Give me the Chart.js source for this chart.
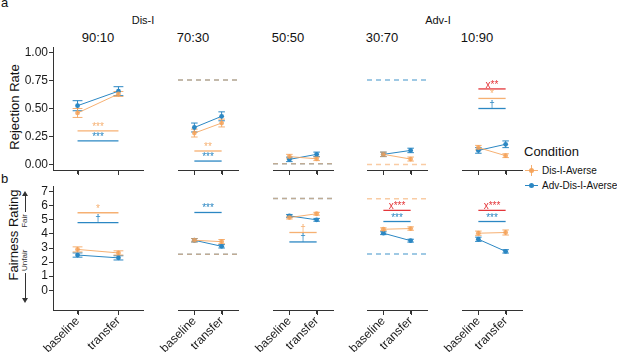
<!DOCTYPE html>
<html>
<head>
<meta charset="utf-8">
<script src="https://cdn.jsdelivr.net/npm/chart.js@4.4.1/dist/chart.umd.min.js"></script>
<style>
  body { margin: 0; background: #fff; }
  #wrap { position: relative; width: 617px; height: 352px; overflow: hidden;
          font-family: "Liberation Sans", Arial, sans-serif; color: #111; }
  canvas { position: absolute; }
  .t { position: absolute; white-space: nowrap; line-height: 1; }
  .c { transform: translate(-50%, -50%); }
  .r { transform: translate(-50%, -50%) rotate(-90deg); }
  .ax { position: absolute; background: #333; }
  .ln { display: inline-block; height: 1px; background: #333; }
  .arL { width: 0; height: 0; border-top: 3px solid transparent; border-bottom: 3px solid transparent; border-right: 5px solid #333; }
  .arR { width: 0; height: 0; border-top: 3px solid transparent; border-bottom: 3px solid transparent; border-left: 5px solid #333; }
</style>
</head>
<body>
<div id="wrap">
  <div class="t" style="left:1px;top:-4px;font-size:13px">a</div>
  <div class="t" style="left:1px;top:172px;font-size:13px">b</div>
  <div class="t c" id="g0" style="left:143px;top:20px;font-size:11px"></div>
  <div class="t c" id="g1" style="left:438px;top:20px;font-size:11px"></div>
  <div class="t r" style="left:14px;top:107px;font-size:13px">Rejection Rate</div>
  <div class="t r" style="left:13px;top:235px;font-size:13px">Fairness Rating</div>
  <div class="t" style="left:25px;top:247px;width:112px;display:flex;align-items:center;font-size:8px;color:#333;transform:translate(-50%,-50%) rotate(-90deg)">
    <span class="arL"></span><span class="ln" style="width:25px"></span>
    <span style="margin:0 2px">Unfair</span><span style="flex:1"></span>
    <span style="margin:0 2px">Fair</span>
    <span class="ln" style="width:16px"></span><span class="arR"></span>
  </div>

  <div class="t" style="left:524px;top:145px;font-size:13px">Condition</div>
  <div style="position:absolute;left:525px;top:170px;width:13px;height:1px;background:rgba(244,162,89,0.85)"></div>
  <div style="position:absolute;left:531px;top:165px;width:1px;height:11px;background:rgba(244,162,89,0.85)"></div>
  <div style="position:absolute;left:529px;top:168px;width:5px;height:5px;border-radius:50%;background:rgba(244,162,89,0.95)"></div>
  <div class="t" id="lg0" style="left:542px;top:166px;font-size:10px"></div>
  <div style="position:absolute;left:525px;top:185px;width:13px;height:1px;background:#2B87C3"></div>
  <div style="position:absolute;left:529px;top:183px;width:5px;height:5px;border-radius:50%;background:#2B87C3"></div>
  <div class="t" id="lg1" style="left:542px;top:181px;font-size:10px"></div>
</div>
<script>
const facets = ['90:10', '70:30', '50:50', '30:70', '10:90'];
const phases = ['baseline', 'transfer'];
const groups = ['Dis-I', 'Adv-I'];
const conditions = ['Dis-I-Averse', 'Adv-Dis-I-Averse'];

// panel a: rejection rate, [baseline, transfer] per ratio
const rejDis = [[0.46, 0.63], [0.28, 0.37], [0.07, 0.05], [0.09, 0.048], [0.15, 0.078]];
const rejDisErr = [[0.04, 0.022], [0.035, 0.035], [0.02, 0.016], [0.02, 0.018], [0.02, 0.017]];
const rejAdv = [[0.525, 0.655], [0.33, 0.43], [0.045, 0.09], [0.09, 0.125], [0.125, 0.18]];
const rejAdvErr = [[0.045, 0.04], [0.04, 0.04], [0.02, 0.02], [0.02, 0.02], [0.025, 0.03]];
const rejTicks = [0, 0.25, 0.5, 0.75, 1];
// significance bars (null = none) and their marks
const rejSigDis = [0.30, 0.12, null, null, 0.59];
const rejSigDisLab = ['***', '**', '', '', '*'];
const rejSigAdv = [0.21, 0.03, null, null, 0.50];
const rejSigAdvLab = ['***', '***', '', '', '†'];
const rejSigDiff = [null, null, null, null, 0.675];
const rejSigDiffLab = ['', '', '', '', 'x**'];
// dashed reference levels
const rejRefDis = [null, 0.755, 0.005, 0.0, null];
const rejRefAdv = [null, 0.755, 0.005, 0.755, null];

// panel b: fairness rating
const fairDis = [[2.9, 2.65], [3.55, 3.45], [5.16, 5.43], [4.33, 4.38], [4.05, 4.1]];
const fairDisErr = [[0.18, 0.15], [0.12, 0.15], [0.1, 0.1], [0.1, 0.12], [0.15, 0.18]];
const fairAdv = [[2.5, 2.3], [3.55, 3.12], [5.28, 5.0], [4.05, 3.52], [3.62, 2.76]];
const fairAdvErr = [[0.15, 0.15], [0.12, 0.12], [0.1, 0.1], [0.1, 0.1], [0.15, 0.12]];
const fairTicks = [0, 1, 2, 3, 4, 5, 6, 7];
const fairSigDis = [5.5, null, 4.1, null, null];
const fairSigDisLab = ['*', '', '†', '', ''];
const fairSigAdv = [4.8, 5.52, 3.43, 4.88, 4.88];
const fairSigAdvLab = ['†', '***', '†', '***', '***'];
const fairSigDiff = [null, null, null, 5.67, 5.67];
const fairSigDiffLab = ['', '', '', 'x***', 'x***'];
const fairRefDis = [null, 2.55, 6.52, 6.5, null];
const fairRefAdv = [null, 2.55, 6.52, 2.57, null];

const ORANGE = 'rgba(244,162,89,0.85)';
const BLUE = '#2B87C3';
const RED = '#E4363A';
const ORANGE_DASH = 'rgba(244,162,89,0.55)';
const BLUE_DASH = 'rgba(43,135,195,0.6)';
const AXIS = '#333';

const MS = 14;         // spare room left/right of each facet canvas
const YW = 30;         // y axis width on first facet
const FW = 90;         // facet width
const FACET_L = [53, 148, 243, 337, 432];
const CAP = 0.12;

Chart.defaults.font.family = '"Liberation Sans", Arial, sans-serif';
Chart.defaults.color = '#1a1a1a';

const wrap = document.getElementById('wrap');
document.getElementById('g0').textContent = groups[0];
document.getElementById('g1').textContent = groups[1];
document.getElementById('lg0').textContent = conditions[0];
document.getElementById('lg1').textContent = conditions[1];

facets.forEach((f, i) => {
  const d = document.createElement('div');
  d.className = 't c';
  d.style.left = (FACET_L[i] + FW / 2) + 'px';
  d.style.top = '37px';
  d.style.fontSize = '13px';
  d.textContent = f;
  wrap.appendChild(d);
});

function seg(v, x0, x1) {
  return [{x: x0, y: v}, {x: x1, y: v}];
}

function errData(vals, errs) {
  const d = [];
  vals.forEach((v, k) => {
    const x = k + 1, lo = v - errs[k], hi = v + errs[k];
    d.push({x: x, y: lo}, {x: x, y: hi}, {x: x, y: null});
    d.push({x: x - CAP, y: lo}, {x: x + CAP, y: lo}, {x: x, y: null});
    d.push({x: x - CAP, y: hi}, {x: x + CAP, y: hi}, {x: x, y: null});
  });
  return d;
}

// star / dagger marks over each significance bar
const sigText = {
  id: 'sigText',
  afterDatasetsDraw(chart) {
    const {ctx, scales: {x, y}} = chart;
    chart.data.datasets.forEach(ds => {
      if (!ds.sigLabel) return;
      ctx.save();
      ctx.font = '10px "Liberation Sans", Arial, sans-serif';
      ctx.fillStyle = ds.borderColor;
      ctx.textAlign = 'center';
      ctx.textBaseline = 'alphabetic';
      ctx.fillText(ds.sigLabel, x.getPixelForValue(1.5), y.getPixelForValue(ds.data[0].y) - 1);
      ctx.restore();
    });
  }
};

// the thin crisp axis strokes did not show up in the photo, so copy them
// as 1px divs placed from the scales' own geometry
function axisDiv(left, top, w, h) {
  const d = document.createElement('div');
  d.className = 'ax';
  d.style.left = left + 'px';
  d.style.top = top + 'px';
  d.style.width = w + 'px';
  d.style.height = h + 'px';
  wrap.appendChild(d);
}

function copyAxes(chart, ox, oy) {
  const {x, y} = chart.scales;
  axisDiv(ox + x.left, oy + x.top, x.width, 1);
  x.ticks.forEach(t => axisDiv(ox + Math.round(x.getPixelForValue(t.value)), oy + x.top + 1, 1, 4));
  if (y.options.display) {
    axisDiv(ox + y.right, oy + y.top, 1, y.height + 1);
    y.ticks.forEach(t => axisDiv(ox + y.right - 4, oy + Math.floor(y.getPixelForValue(t.value)), 4, 1));
  }
}

const panels = [
  {top: 47, h: 123, mt: 10, axisH: 8, min: -0.05, max: 1.05, ticks: rejTicks, fmt: v => v.toFixed(2), labels: false,
   dis: rejDis, disErr: rejDisErr, adv: rejAdv, advErr: rejAdvErr,
   sigDis: rejSigDis, sigDisLab: rejSigDisLab, sigAdv: rejSigAdv, sigAdvLab: rejSigAdvLab,
   sigDiff: rejSigDiff, sigDiffLab: rejSigDiffLab, refDis: rejRefDis, refAdv: rejRefAdv},
  {top: 186, h: 124, mt: 8, axisH: 60, min: -1.4, max: 7.4, ticks: fairTicks, fmt: v => String(v), labels: true,
   dis: fairDis, disErr: fairDisErr, adv: fairAdv, advErr: fairAdvErr,
   sigDis: fairSigDis, sigDisLab: fairSigDisLab, sigAdv: fairSigAdv, sigAdvLab: fairSigAdvLab,
   sigDiff: fairSigDiff, sigDiffLab: fairSigDiffLab, refDis: fairRefDis, refAdv: fairRefAdv}
];

function makeFacet(p, i) {
  const first = i === 0;
  const cv = document.createElement('canvas');
  const ox = FACET_L[i] - MS - (first ? YW : 0);
  const oy = p.top - p.mt;
  cv.width = FW + 2 * MS + (first ? YW : 0);
  cv.height = p.mt + p.h + p.axisH;
  cv.style.left = ox + 'px';
  cv.style.top = oy + 'px';
  wrap.appendChild(cv);

  const ds = [];
  // means joined by a line (orange on top)
  ds.push({data: p.dis[i].map((v, k) => ({x: k + 1, y: v})), borderColor: ORANGE, backgroundColor: ORANGE,
           borderWidth: 1, pointRadius: 2.4, pointBorderWidth: 0, order: 0});
  ds.push({data: p.adv[i].map((v, k) => ({x: k + 1, y: v})), borderColor: BLUE, backgroundColor: BLUE,
           borderWidth: 1, pointRadius: 2.4, pointBorderWidth: 0, order: 0});
  // error bars
  ds.push({data: errData(p.dis[i], p.disErr[i]), borderColor: ORANGE, borderWidth: 1, pointRadius: 0, spanGaps: false, order: 1});
  ds.push({data: errData(p.adv[i], p.advErr[i]), borderColor: BLUE, borderWidth: 1, pointRadius: 0, spanGaps: false, order: 1});
  // significance bars
  [[p.sigDiff, p.sigDiffLab, RED], [p.sigDis, p.sigDisLab, ORANGE], [p.sigAdv, p.sigAdvLab, BLUE]].forEach(([vals, labs, col]) => {
    if (vals[i] === null) return;
    ds.push({data: seg(vals[i], 1, 2), borderColor: col, borderWidth: 1.3, pointRadius: 0, sigLabel: labs[i], order: 2});
  });
  // dashed reference levels
  if (p.refDis[i] !== null) {
    ds.push({data: seg(p.refDis[i], 0.4, 2.6), borderColor: ORANGE_DASH, borderWidth: 1.5, borderDash: [5, 4], pointRadius: 0, order: 3});
  }
  if (p.refAdv[i] !== null) {
    ds.push({data: seg(p.refAdv[i], 0.4, 2.6), borderColor: BLUE_DASH, borderWidth: 1.5, borderDash: [5, 4], pointRadius: 0, order: 3});
  }

  const chart = new Chart(cv, {
    type: 'line',
    data: {datasets: ds},
    options: {
      responsive: false,
      animation: false,
      events: [],
      layout: {padding: {left: MS, right: MS, top: p.mt, bottom: 0}},
      plugins: {legend: {display: false}, tooltip: {enabled: false}},
      scales: {
        x: {
          type: 'linear', min: 0.4, max: 2.6,
          afterBuildTicks: s => { s.ticks = phases.map((_, k) => ({value: k + 1})); },
          afterFit: s => { s.height = p.axisH; s.paddingLeft = 0; s.paddingRight = 0; },
          grid: {drawOnChartArea: false, drawTicks: true, tickLength: 4, tickColor: AXIS},
          border: {display: true, color: AXIS, width: 1},
          ticks: {display: p.labels, autoSkip: false, minRotation: 45, maxRotation: 45, padding: 0,
                  font: {size: 12}, color: '#1a1a1a', callback: (v, k) => phases[k]}
        },
        y: {
          type: 'linear', min: p.min, max: p.max, display: first,
          afterBuildTicks: s => { s.ticks = p.ticks.map(v => ({value: v})); },
          afterFit: s => { s.width = YW; s.paddingTop = 0; s.paddingBottom = 0; },
          grid: {drawOnChartArea: false, drawTicks: true, tickLength: 4, tickColor: AXIS},
          border: {display: true, color: AXIS, width: 1},
          ticks: {padding: 1, font: {size: 12}, color: '#1a1a1a', callback: v => p.fmt(v)}
        }
      }
    },
    plugins: [sigText]
  });
  copyAxes(chart, ox, oy);
}

panels.forEach(p => facets.forEach((f, i) => makeFacet(p, i)));
</script>
</body>
</html>
